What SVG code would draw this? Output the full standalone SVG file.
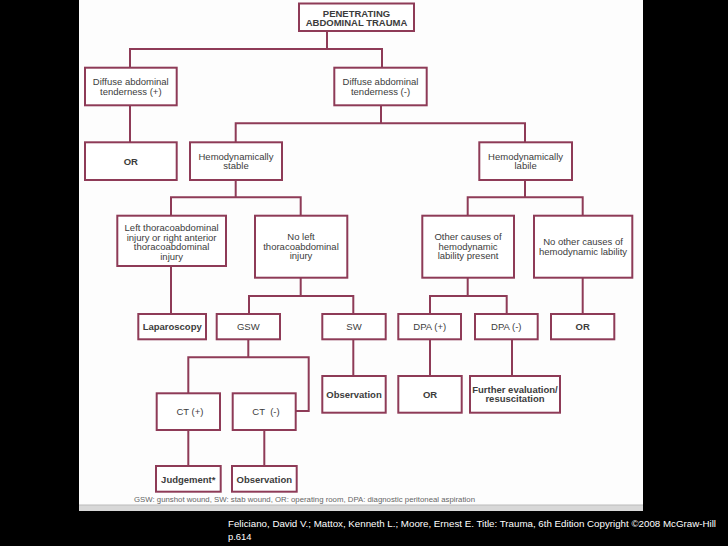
<svg xmlns="http://www.w3.org/2000/svg" width="728" height="546" viewBox="0 0 728 546">
<style>
.bx{fill:#fff;stroke:#8e3b57;stroke-width:2}
.ln{fill:none;stroke:#8e3b57;stroke-width:2}
text{font-family:"Liberation Sans",Arial,sans-serif;font-size:9.5px;fill:#3c3c3c;text-anchor:middle}
.b{font-weight:bold}
.fn{font-size:7.5px;fill:#666;text-anchor:start}
.cap{font-size:9.4px;fill:#fff;text-anchor:start}
</style>
<rect x="0" y="0" width="728" height="546" fill="#000"/>
<rect x="79" y="0" width="564" height="511" fill="#fdfdfd"/>
<rect x="79" y="505" width="564" height="6" fill="#d8d8d8"/>
<line x1="79" y1="505" x2="643" y2="505" stroke="#bbb" stroke-width="1"/>
<g id="connectors">
<path class="ln" d="M327 31V49M130 67.7V49H382V67.7"/>
<path class="ln" d="M130 105.3V142.3"/>
<path class="ln" d="M381 105.3V123.3M235.7 142.3V123.3H525V142.3"/>
<path class="ln" d="M235.7 180V197.3M171 215.7V197.3H300.7V215.7"/>
<path class="ln" d="M525 180V197.3M467.7 215.7V197.3H582.7V215.7"/>
<path class="ln" d="M171 266V314"/>
<path class="ln" d="M300.7 277.7V296M249 314V296H353.3V314"/>
<path class="ln" d="M467.7 277.7V296M430 314V296H506.7V314"/>
<path class="ln" d="M582.7 277.7V314"/>
<path class="ln" d="M248.3 339.3V357.3M188.3 393.3V357.3H308.7V411H295.7"/>
<path class="ln" d="M353.3 339.3V376"/>
<path class="ln" d="M430 339.3V376"/>
<path class="ln" d="M512 339.3V376"/>
<path class="ln" d="M188.3 430V466"/>
<path class="ln" d="M264.3 430V466"/>
</g>
<g id="n_top"><rect class="bx" x="299" y="3.5" width="115" height="27.5"/><text class="b" x="356.5" y="16.5">PENETRATING</text><text class="b" x="356.5" y="26">ABDOMINAL TRAUMA</text></g>
<g id="n_diff_pos"><rect class="bx" x="85" y="67.7" width="91.7" height="37.6"/><text x="130.8" y="85">Diffuse abdominal</text><text x="130.8" y="94.5">tenderness (+)</text></g>
<g id="n_diff_neg"><rect class="bx" x="334.3" y="67.7" width="92.4" height="37.6"/><text x="380.5" y="85">Diffuse abdominal</text><text x="380.5" y="94.5">tenderness (-)</text></g>
<g id="n_or1"><rect class="bx" x="85" y="142.3" width="91.7" height="37.7"/><text class="b" x="130.8" y="164.5">OR</text></g>
<g id="n_stable"><rect class="bx" x="190" y="142.3" width="92" height="37.7"/><text x="236" y="159.5">Hemodynamically</text><text x="236" y="169">stable</text></g>
<g id="n_labile"><rect class="bx" x="479.3" y="142.3" width="92.7" height="37.7"/><text x="525.6" y="159.5">Hemodynamically</text><text x="525.6" y="169">labile</text></g>
<g id="n_left"><rect class="bx" x="117.3" y="215.7" width="108.7" height="50.3"/><text x="171.6" y="231">Left thoracoabdominal</text><text x="171.6" y="240.5">injury or right anterior</text><text x="171.6" y="250">thoracoabdominal</text><text x="171.6" y="259.5">injury</text></g>
<g id="n_noleft"><rect class="bx" x="255" y="215.7" width="92.3" height="62"/><text x="301" y="240">No left</text><text x="301" y="249.5">thoracoabdominal</text><text x="301" y="259">injury</text></g>
<g id="n_other"><rect class="bx" x="422.3" y="215.7" width="91.7" height="62"/><text x="468" y="240">Other causes of</text><text x="468" y="249.5">hemodynamic</text><text x="468" y="259">lability present</text></g>
<g id="n_noother"><rect class="bx" x="534" y="215.7" width="98.3" height="62"/><text x="583" y="245">No other causes of</text><text x="583" y="254.5">hemodynamic lability</text></g>
<g id="n_lap"><rect class="bx" x="138.3" y="314" width="67.7" height="25.3"/><text class="b" x="172.2" y="330">Laparoscopy</text></g>
<g id="n_gsw"><rect class="bx" x="216.7" y="314" width="63.3" height="25.3"/><text x="248.3" y="330">GSW</text></g>
<g id="n_sw"><rect class="bx" x="322.3" y="314" width="63.4" height="25.3"/><text x="354" y="330">SW</text></g>
<g id="n_dpap"><rect class="bx" x="398.3" y="314" width="62.7" height="25.3"/><text x="429.7" y="330">DPA (+)</text></g>
<g id="n_dpan"><rect class="bx" x="475" y="314" width="62.7" height="25.3"/><text x="506.3" y="330">DPA (-)</text></g>
<g id="n_or2"><rect class="bx" x="551" y="314" width="63.3" height="25.3"/><text class="b" x="582.7" y="330">OR</text></g>
<g id="n_obs_sw"><rect class="bx" x="322.3" y="376" width="63.4" height="36.7"/><text class="b" x="354" y="397.5">Observation</text></g>
<g id="n_or3"><rect class="bx" x="398.3" y="376" width="63.4" height="36.7"/><text class="b" x="430" y="397.5">OR</text></g>
<g id="n_further"><rect class="bx" x="470" y="376" width="90" height="36.7"/><text class="b" x="515" y="392.5">Further evaluation/</text><text class="b" x="515" y="402">resuscitation</text></g>
<g id="n_ctp"><rect class="bx" x="156.7" y="393.3" width="63.3" height="36.7"/><text x="190" y="415">CT (+)</text></g>
<g id="n_ctn"><rect class="bx" x="232.7" y="393.3" width="63" height="36.7"/><text x="266" y="415" xml:space="preserve">CT  (-)</text></g>
<g id="n_judge"><rect class="bx" x="156" y="466" width="64.7" height="25.7"/><text class="b" x="188.3" y="482.5">Judgement*</text></g>
<g id="n_obs_ct"><rect class="bx" x="232" y="466" width="64.7" height="25.7"/><text class="b" x="264.3" y="482.5">Observation</text></g>
<text class="fn" x="134" y="502" textLength="341" lengthAdjust="spacingAndGlyphs">GSW: gunshot wound, SW: stab wound, OR: operating room, DPA: diagnostic peritoneal aspiration</text>
<text class="cap" x="228" y="527" textLength="488" lengthAdjust="spacingAndGlyphs">Feliciano, David V.; Mattox, Kenneth L.; Moore, Ernest E. Title: Trauma, 6th Edition Copyright ©2008 McGraw-Hill</text>
<text class="cap" x="228" y="540">p.614</text>
</svg>
